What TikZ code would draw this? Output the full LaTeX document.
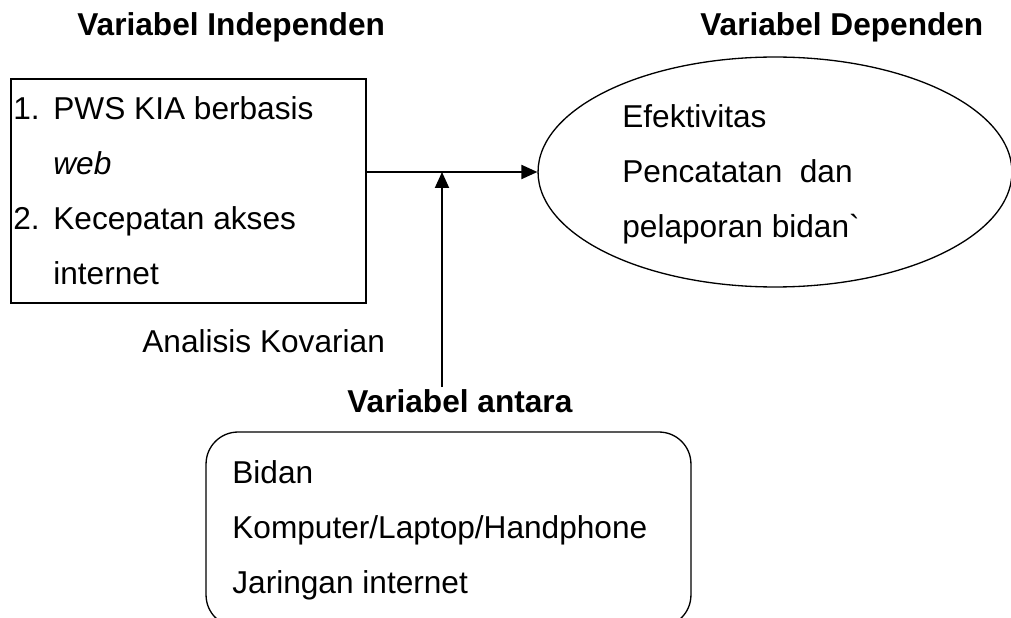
\documentclass[tikz,border=0pt]{standalone}
\usepackage{fontspec}
\setmainfont{Liberation Sans}
\usetikzlibrary{arrows.meta,shapes.geometric}
\begin{document}
\begin{tikzpicture}[x=0.02cm,y=-0.02cm,
  txt/.style={font=\fontsize{18}{20}\selectfont, inner sep=0pt, anchor=base west},
  ttl/.style={txt, font=\fontsize{18}{20}\selectfont\bfseries},
  frame/.style={draw, line width=0.75pt, inner sep=0pt},
  conn/.style={line width=1.1pt, -{Triangle[length=0.32cm,width=0.28cm]}},
]
\useasboundingbox (0,0) rectangle (1011,618);
% shapes
\node[frame, minimum width=7.1cm, minimum height=4.48cm] (indep) at (188.5,191) {};
\node[frame, ellipse, minimum width=9.48cm, minimum height=4.6cm] (dep) at (775,172) {};
\node[frame, rounded corners=0.64cm, minimum width=9.7cm, minimum height=3.9cm] (antara) at (448.5,529.5) {};
% titles
\node[ttl] (tindep) at (77,36) {Variabel Independen};
\node[ttl] (tdep) at (700,36) {Variabel Dependen};
\node[ttl] (tantara) at (347,412) {Variabel antara};
% independent variables
\node[txt] (i1) at (13,120) {\makebox[0.8cm][l]{1.}PWS KIA berbasis};
\node[txt] (i2) at (53,175) {\itshape web};
\node[txt] (i3) at (13,230) {\makebox[0.8cm][l]{2.}Kecepatan akses};
\node[txt] (i4) at (53,285) {internet};
% dependent variable
\node[txt] (d1) at (622,128) {Efektivitas};
\node[txt] (d2) at (622,183) {Pencatatan\ \ dan};
\node[txt] (d3) at (622,238) {pelaporan bidan\textasciigrave};
% intervening variables
\node[txt] (a1) at (232,483) {Bidan};
\node[txt] (a2) at (232,538) {Komputer/Laptop/Handphone};
\node[txt] (a3) at (232,593) {Jaringan internet};
% label
\node[txt] (cov) at (142,353) {Analisis Kovarian};
% connectors
\coordinate (vstart) at (442,387);
\coordinate (join) at (vstart |- dep.west);
\draw[conn] (indep.east |- dep.west) -- (dep.west);
\draw[conn] (vstart) -- (join);
\end{tikzpicture}
\end{document}
